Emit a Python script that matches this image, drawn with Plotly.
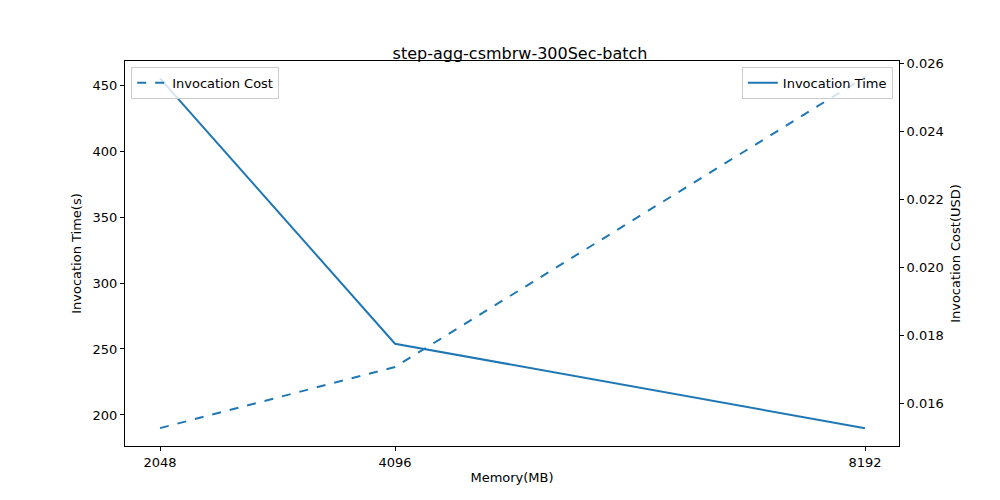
import plotly.graph_objects as go

memory = [2048, 4096, 8192]
invocation_time = [455, 254, 190]
invocation_cost = [0.01526, 0.01706, 0.02559]

fig = go.Figure()

fig.add_trace(go.Scatter(
    x=memory, y=invocation_time, mode='lines', name='Invocation Time',
    line=dict(color='#1f77b4', width=2), yaxis='y', legend='legend2', showlegend=True
))
fig.add_trace(go.Scatter(
    x=memory, y=invocation_cost, mode='lines', name='Invocation Cost',
    line=dict(color='#1f77b4', width=2, dash='dash'), yaxis='y2', legend='legend', showlegend=True
))

axis_style = dict(showgrid=False, zeroline=False, showline=True, linecolor='black',
                  linewidth=1, ticks='outside', ticklen=4, tickcolor='black',
                  tickfont=dict(size=13, color='black'))

fig.update_layout(
    width=1000, height=500,
    showlegend=True,
    margin=dict(l=117, r=109, t=53, b=62),
    plot_bgcolor='white', paper_bgcolor='white',
    font=dict(family='DejaVu Sans', size=13, color='black'),
    title=dict(text='step-agg-csmbrw-300Sec-batch', x=0.512, xanchor='center',
               y=0.91, yanchor='middle', font=dict(size=16)),
    xaxis=dict(range=[1743, 8488], tickvals=memory, mirror=True,
               title=dict(text='Memory(MB)', standoff=4, font=dict(size=13)), **axis_style),
    yaxis=dict(range=[176.5, 468.2], tickvals=[200, 250, 300, 350, 400, 450],
               title=dict(text='Invocation Time(s)', standoff=8, font=dict(size=13)), **axis_style),
    yaxis2=dict(range=[0.014735, 0.02606], overlaying='y', side='right',
                tickvals=[0.016, 0.018, 0.020, 0.022, 0.024, 0.026], tickformat='.3f',
                title=dict(text='Invocation Cost(USD)', standoff=8, font=dict(size=13)), **axis_style),
    legend=dict(x=0.008, y=0.985, xanchor='left', yanchor='top', visible=True,
                bordercolor='#cccccc', borderwidth=1, bgcolor='rgba(255,255,255,0.8)',
                font=dict(size=13)),
    legend2=dict(x=0.992, y=0.985, xanchor='right', yanchor='top', visible=True,
                 bordercolor='#cccccc', borderwidth=1, bgcolor='rgba(255,255,255,0.8)',
                 font=dict(size=13)),
)

fig.write_html('out.html')
